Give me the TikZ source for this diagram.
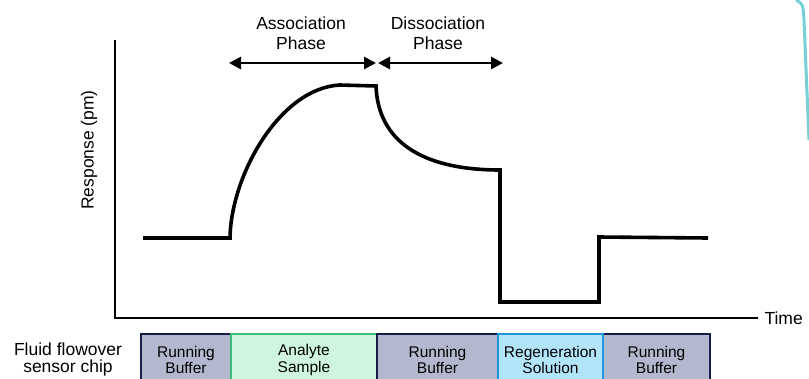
\documentclass[tikz,border=0pt]{standalone}
\usepackage{fontspec}
\setmainfont{Liberation Sans}
\usetikzlibrary{arrows.meta, positioning}
\definecolor{chipnavy}{RGB}{22, 30, 72}
\definecolor{buffergray}{RGB}{180, 184, 206}
\definecolor{samplegreen}{RGB}{208, 245, 222}
\definecolor{sampleedge}{RGB}{62, 190, 122}
\definecolor{regenblue}{RGB}{178, 228, 250}
\definecolor{regenedge}{RGB}{30, 150, 220}
\definecolor{scanteal}{RGB}{84, 196, 206}

\begin{document}
\begin{tikzpicture}[x=1pt, y=-1pt]
                \tikzstyle{stage} = [draw=chipnavy, fill=buffergray, line width=2.2pt, minimum height=52pt, inner sep=0pt, outer sep=0pt, align=center, font=\fontsize{15.5}{16.5}\selectfont]
                \tikzstyle{sample} = [stage, draw=sampleedge, fill=samplegreen]
                \tikzstyle{regen} = [stage, draw=regenedge, fill=regenblue]
                \tikzstyle{label} = [align=center, font=\fontsize{17.5}{19.5}\selectfont]
                \tikzstyle{axis} = [draw, line width=2.8pt]
                \tikzstyle{sensorgram} = [draw, line width=3.6pt, line join=miter]
                \tikzstyle{phasearrow} = [draw, line width=2.8pt, {Triangle[length=12pt, width=12pt]}-{Triangle[length=12pt, width=12pt]}]

                \useasboundingbox (0,0) rectangle (809,378);
                \clip (0,0) rectangle (809,378);

                % axes
                \coordinate (ytop) at (115,40);
                \coordinate (origin) at (115,318);
                \coordinate (xend) at (758,318);
                \draw[axis] (ytop) -- (origin) -- (xend);
                \node[label, anchor=west] (time) at (761,318) {Time};
                \node[label, rotate=90] (resp) at (89,150) {Response (pm)};

                % phases
                \coordinate (assocL) at (229,63);
                \coordinate (assocR) at (376,63);
                \coordinate (dissocL) at (378,63);
                \coordinate (dissocR) at (503,63);
                \draw[phasearrow] (assocL) -- (assocR);
                \draw[phasearrow] (dissocL) -- (dissocR);
                \node[label] (assoc) at (301,33) {Association\\Phase};
                \node[label] (dissoc) at (438,33) {Dissociation\\Phase};

                % response curve
                \draw[sensorgram] (143,238) -- (230,238) .. controls (231,175) and (280,88) .. (340,85) -- (376,86)
                    .. controls (378,140) and (420,170) .. (500,170) -- (500,302) -- (599,302) -- (599,237) -- (708,238);

                % flow cell
                \node[stage, minimum width=90pt] (buf1) at (186,360) {Running\\Buffer};
                \node[sample, minimum width=146pt, right=0pt of buf1] (analyte) {Analyte\\Sample};
                \node[stage, minimum width=121pt, right=0pt of analyte] (buf2) {Running\\Buffer};
                \node[stage, minimum width=107pt, right=0pt of buf2.east, anchor=west, xshift=105pt] (buf3) {Running\\Buffer};
                \node[regen, minimum width=105pt, right=0pt of buf2] (regsol) {Regeneration\\Solution};
                \node[label, font=\fontsize{17.5}{17}\selectfont] (chip) at (68,359) {Fluid flowover\\sensor chip};

                % scan edge
                \draw[scanteal, line width=3pt, opacity=0.8] (796,0) .. controls (803,4) .. (804,20) -- (809,140);
            \end{tikzpicture}
\end{document}
